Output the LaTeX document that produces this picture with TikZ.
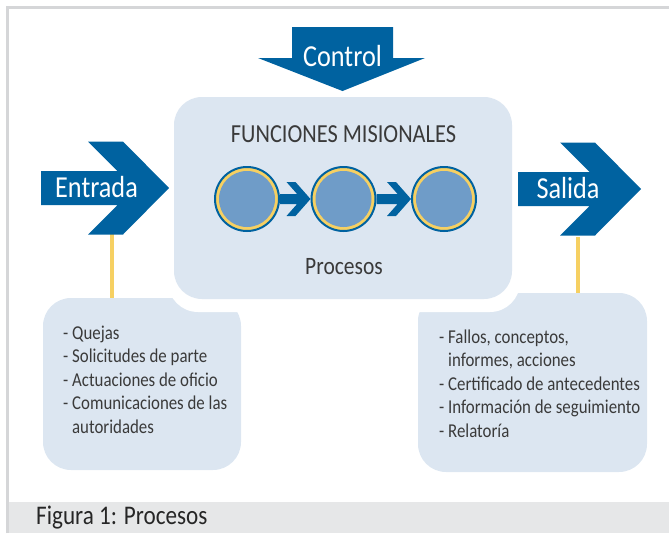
\documentclass[tikz,border=0pt]{standalone}
\usepackage{fontspec}
\setmainfont{Carlito}[FakeStretch=0.86]
\usetikzlibrary{calc}
\definecolor{flowblue}{HTML}{0062A0}
\definecolor{pane}{HTML}{DCE6F1}
\definecolor{ringgold}{HTML}{F6D062}
\definecolor{discblue}{HTML}{6F9CC8}
\definecolor{band}{HTML}{E6E7E8}
\definecolor{rule}{HTML}{D5D6D8}
\definecolor{ink}{HTML}{3A3A3A}
\tikzset{
  pics/chevron/.style={code={
    \fill[flowblue] (-#1,-17) -- (-51.5,-17) -- (-81,-46.5) -- (-46,-46.5) -- (0,0)
      -- (-46,46.5) -- (-81,46.5) -- (-51.5,17) -- (-#1,17) -- cycle;}}
}

\begin{document}
\begin{tikzpicture}[x=1pt,y=-1pt,
  bigtext/.style={text=white,inner sep=0,font=\fontsize{30.5}{36}\selectfont},
  plain/.style={text=ink,inner sep=0,font=\fontsize{26}{30}\selectfont},
  listtext/.style={text=ink,inner sep=0,align=left,font=\fontsize{19.6}{23.4}\selectfont},
  proc/.style={circle,minimum size=64,inner sep=0,fill=ringgold,draw=flowblue,line width=2,
    path picture={\fill[discblue] (path picture bounding box.center) circle (28);}},
  post/.style={ringgold,line width=4.5},
  panel/.style={fill=pane,rounded corners=28}]
 \useasboundingbox (0,0) rectangle (669,533);
 % frame and caption band
 \fill[band] (9,502) rectangle (669,533);
 \draw[rule,line width=3] (7.5,533) -- (7.5,7.5) -- (669,7.5);
 % boxes and the central pane
 \fill[panel] (43,298) rectangle (241,470);
 \fill[panel] (418,293) rectangle (647,472);
 \fill[white,rounded corners=30] (168,85) rectangle (520,312);
 \fill[panel] (174,97) rectangle (512,299);
 % posts
 \coordinate (inpost) at (112,234);
 \coordinate (inbox) at (112,298);
 \coordinate (outpost) at (578,237);
 \coordinate (outbox) at (578,293);
 \draw[post] (inpost) -- (inbox);
 \draw[post] (outpost) -- (outbox);
 % big arrows
 \fill[flowblue] (292,27) -- (393,27) -- (393,58) -- (425,58) -- (342.5,91)
   -- (258,58) -- (292,58) -- cycle;
 \pic at (169,188) {chevron=128};
 \pic at (641,189) {chevron=123};
 \node[bigtext,anchor=base] (control) at (342.5,66) {Control};
 \node[bigtext,anchor=base] (entrada) at (96.5,197) {Entrada};
 \node[bigtext,anchor=base] (salida) at (568,198) {Salida};
 % processes
 \node[plain,anchor=base] (title) at (343.5,142) {FUNCIONES MISIONALES};
 \node[proc] (p1) at (247,199) {};
 \node[proc] (p2) at (343.5,199) {};
 \node[proc] (p3) at (444,199) {};
 \foreach \a/\b in {p1/p2,p2/p3}
   \fill[flowblue] ($(\a.east)+(0,-5)$) -- ($(\b.west)+(-13.4,-5)$) -- ++(-10.6,-12)
     -- ++(9,0) -- (\b.west) -- ++(-15,17) -- ++(-9,0) -- ++(10.6,-12)
     -- ($(\a.east)+(0,5)$) -- cycle;
 \node[plain,anchor=base,font=\fontsize{25}{30}\selectfont] (procs) at (344,274) {Procesos};
 % lists
 \node[listtext,anchor=base west] (inlist) at (63,433)
   {- Quejas\\- Solicitudes de parte\\- Actuaciones de oficio\\
    - Comunicaciones de las\\\hphantom{- }autoridades};
 \node[listtext,anchor=base west] (outlist) at (439,437)
   {- Fallos, conceptos,\\\hphantom{- }informes, acciones\\- Certificado de antecedentes\\
    - Información de seguimiento\\- Relatoría};
 \node[anchor=base west,inner sep=0,text=black!85,font=\fontsize{26.9}{30}\selectfont]
   (caption) at (36,524) {Figura 1: Procesos};
\end{tikzpicture}
\end{document}
